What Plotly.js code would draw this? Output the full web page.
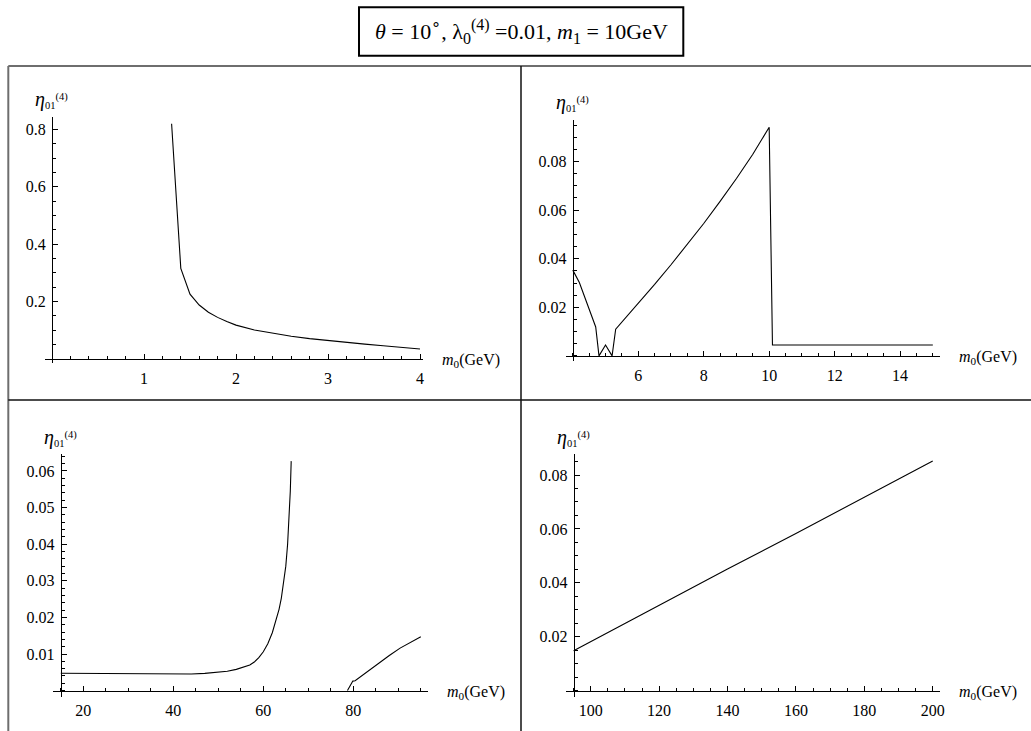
<!DOCTYPE html>
<html>
<head>
<meta charset="utf-8">
<script src="https://cdn.plot.ly/plotly-3.0.1.min.js"></script>
<style>html,body{margin:0;padding:0;background:#fff;}#chart{width:1031px;height:731px;}</style>
</head>
<body>
<div id="chart"></div>
<script>
// ---------- data ----------
// Panel 1 (top-left): m0 in GeV, eta01^(4)
const p1_x = [1.3, 1.4, 1.5, 1.6, 1.7, 1.8, 1.9, 2.0, 2.2, 2.4, 2.6, 2.8, 3.0, 3.2, 3.4, 3.6, 3.8, 4.0];
const p1_y = [0.820, 0.316, 0.226, 0.188, 0.163, 0.145, 0.131, 0.118, 0.101, 0.089, 0.079, 0.071, 0.064, 0.058, 0.052, 0.046, 0.041, 0.035];
// Panel 2 (top-right)
const p2_x = [4.0, 4.2, 4.7, 4.8, 5.0, 5.2, 5.31, 6.0, 6.5, 7.0, 7.5, 8.0, 8.5, 9.0, 9.5, 10.0, 10.1, 15.0];
const p2_y = [0.0353, 0.0302, 0.0119, 0.0, 0.0045, 0.0, 0.0110, 0.0215, 0.0294, 0.0375, 0.0459, 0.0545, 0.0636, 0.0730, 0.0830, 0.0941, 0.0045, 0.0045];
// Panel 3 (bottom-left), two branches
const p3a_x = [15, 20, 30, 40, 44, 47, 50, 52, 54, 56, 57, 58, 59, 60, 61, 62, 63, 63.5, 64, 64.5, 65, 65.4, 65.7, 66.0, 66.2];
const p3a_y = [0.00473, 0.0047, 0.0046, 0.00445, 0.00455, 0.0047, 0.0050, 0.0053, 0.0058, 0.0065, 0.0070, 0.0078, 0.0090, 0.0106, 0.0128, 0.0158, 0.0198, 0.0222, 0.0252, 0.0290, 0.0340, 0.0400, 0.0465, 0.0545, 0.0627];
const p3b_x = [78.7, 79.9, 80.4, 82.0, 85.2, 88.0, 90.4, 92.0, 95.0];
const p3b_y = [0.0, 0.0026, 0.0027, 0.0042, 0.0070, 0.0096, 0.0116, 0.0127, 0.0147];
// Panel 4 (bottom-right)
const p4_x = [95, 120, 140, 160, 180, 200];
const p4_y = [0.0148, 0.0317, 0.0451, 0.0583, 0.0718, 0.0852];

// tick labels
const p1_xticks = [1, 2, 3, 4];
const p1_yticks = [0.2, 0.4, 0.6, 0.8];
const p1_yticktext = ['0.2', '0.4', '0.6', '0.8'];
const p2_xticks = [6, 8, 10, 12, 14];
const p2_yticks = [0.02, 0.04, 0.06, 0.08];
const p2_yticktext = ['0.02', '0.04', '0.06', '0.08'];
const p3_xticks = [20, 40, 60, 80];
const p3_yticks = [0.01, 0.02, 0.03, 0.04, 0.05, 0.06];
const p3_yticktext = ['0.01', '0.02', '0.03', '0.04', '0.05', '0.06'];
const p4_xticks = [100, 120, 140, 160, 180, 200];
const p4_yticks = [0.02, 0.04, 0.06, 0.08];
const p4_yticktext = ['0.02', '0.04', '0.06', '0.08'];

const SS = "<span style='font-size:16px'>";
const titleText = '<i>θ</i> = 10<sup>' + SS + '∘</span></sup>, λ<sub>' + SS + '0</span></sub><sup>' + SS +
  '(4)</span></sup> =0.01, <i>m</i><sub>' + SS + '1</span></sub> = 10GeV';
const xLabel = '<i>m</i><sub>0</sub>(GeV)';
const yLabel = "<span style='font-size:20px'><i>η</i></span><sub>01</sub><sup>(4)</sup>";

// ---------- layout helpers ----------
const W = 1031, H = 731;
const fx = p => p / W;
const fy = p => 1 - p / H;
const FONT = '"Liberation Serif", "Times New Roman", Times, serif';

// panel geometry in pixels: x domain, y domain (top,bottom), ranges, origin
const panels = [
  {xd: [45, 423], yd: [116.7, 363], xr: [-0.0761, 4.0326], yr: [-0.01394, 0.84425], ox: 0,
   xt: p1_xticks, yt: p1_yticks, ytt: p1_yticktext, xm: 0.2, ym: 0.05},
  {xd: [565.7, 940], yd: [120, 361], xr: [3.783, 15.219], yr: [-0.0021, 0.09708], ox: 4,
   xt: p2_xticks, yt: p2_yticks, ytt: p2_yticktext, xm: 0.5, ym: 0.005},
  {xd: [53.3, 427.7], yd: [454.3, 697.3], xr: [13.333, 96.533], yr: [-0.00183, 0.06456], ox: 15,
   xt: p3_xticks, yt: p3_yticks, ytt: p3_yticktext, xm: 5, ym: 0.002},
  {xd: [565.7, 940], yd: [454.3, 697], xr: [92.69, 202.13], yr: [-0.00237, 0.08768], ox: 95,
   xt: p4_xticks, yt: p4_yticks, ytt: p4_yticktext, xm: 5, ym: 0.005}
];

const series = [
  [[p1_x, p1_y]],
  [[p2_x, p2_y]],
  [[p3a_x, p3a_y], [p3b_x, p3b_y]],
  [[p4_x, p4_y]]
];

const layout = {
  width: W, height: H,
  margin: {l: 0, r: 0, t: 0, b: 0},
  paper_bgcolor: '#ffffff', plot_bgcolor: 'rgba(0,0,0,0)',
  showlegend: false,
  font: {family: FONT, size: 16, color: '#000'},
  annotations: [], shapes: []
};
const traces = [];

panels.forEach((p, i) => {
  const n = i + 1;
  const xa = 'xaxis' + (n === 1 ? '' : n), ya = 'yaxis' + (n === 1 ? '' : n);
  const xref = 'x' + (n === 1 ? '' : n), yref = 'y' + (n === 1 ? '' : n);
  const xdom = [fx(p.xd[0]), fx(p.xd[1])];
  const ydom = [fy(p.yd[1]), fy(p.yd[0])];
  const xAxisPos = ydom[0] + (0 - p.yr[0]) / (p.yr[1] - p.yr[0]) * (ydom[1] - ydom[0]);
  const yAxisPos = xdom[0] + (p.ox - p.xr[0]) / (p.xr[1] - p.xr[0]) * (xdom[1] - xdom[0]);
  layout[xa] = {
    domain: xdom, range: p.xr, anchor: 'free', position: xAxisPos,
    showline: true, linecolor: '#000', linewidth: 1, showgrid: false, zeroline: false,
    ticks: 'inside', ticklen: 5, tickwidth: 1, tickcolor: '#000',
    tickmode: 'array', tickvals: p.xt, ticktext: p.xt.map(String),
    tickfont: {family: FONT, size: 16, color: '#000'}, ticklabelstandoff: 5,
    minor: {ticks: 'inside', ticklen: 3, tickwidth: 1, tickcolor: '#000', tickmode: 'linear', tick0: 0, dtick: p.xm, showgrid: false},
    fixedrange: true
  };
  layout[ya] = {
    domain: ydom, range: p.yr, anchor: 'free', position: yAxisPos,
    showline: true, linecolor: '#000', linewidth: 1, showgrid: false, zeroline: false,
    ticks: 'inside', ticklen: 5, tickwidth: 1, tickcolor: '#000',
    tickmode: 'array', tickvals: p.yt, ticktext: p.ytt,
    tickfont: {family: FONT, size: 16, color: '#000'}, ticklabelstandoff: 3,
    minor: {ticks: 'inside', ticklen: 3, tickwidth: 1, tickcolor: '#000', tickmode: 'linear', tick0: 0, dtick: p.ym, showgrid: false},
    fixedrange: true
  };
  series[i].forEach(s => {
    traces.push({x: s[0], y: s[1], xaxis: xref, yaxis: yref, type: 'scatter', mode: 'lines',
      line: {color: '#000', width: 1.1}, hoverinfo: 'skip'});
  });
  // axis labels
  layout.annotations.push({
    xref: 'paper', yref: 'paper', x: xdom[1] + 17 / W, y: xAxisPos, xanchor: 'left', yanchor: 'middle',
    yshift: -2, text: xLabel, showarrow: false, font: {family: FONT, size: 16, color: '#000'}
  });
  layout.annotations.push({
    xref: 'paper', yref: 'paper', x: yAxisPos - 19 / W, y: ydom[1] + 17 / H, xanchor: 'left', yanchor: 'middle',
    text: yLabel, showarrow: false, font: {family: FONT, size: 15, color: '#000'}
  });
});

// title box
layout.shapes.push({type: 'rect', xref: 'paper', yref: 'paper', x0: fx(359), x1: fx(683.3), y0: fy(55.7), y1: fy(7.3),
  line: {color: '#000', width: 2}, fillcolor: 'rgba(0,0,0,0)'});
layout.annotations.push({xref: 'paper', yref: 'paper', x: fx(521), y: fy(31.5), xanchor: 'center', yanchor: 'middle',
  text: titleText, showarrow: false, font: {family: FONT, size: 22, color: '#000'}});

// grid frame
const frameGray = {color: '#6e6e6e', width: 2};
const frameDark = {color: '#111', width: 1.5};
layout.shapes.push({type: 'line', xref: 'paper', yref: 'paper', x0: fx(8.3), x1: 1, y0: fy(66), y1: fy(66), line: frameGray});
layout.shapes.push({type: 'line', xref: 'paper', yref: 'paper', x0: fx(8.3), x1: fx(8.3), y0: fy(66), y1: 0, line: frameGray});
layout.shapes.push({type: 'line', xref: 'paper', yref: 'paper', x0: fx(8.3), x1: 1, y0: fy(400), y1: fy(400), line: frameDark});
layout.shapes.push({type: 'line', xref: 'paper', yref: 'paper', x0: fx(521), x1: fx(521), y0: fy(66), y1: 0, line: frameDark});

Plotly.newPlot('chart', traces, layout, {staticPlot: true, displayModeBar: false});
</script>
</body>
</html>
